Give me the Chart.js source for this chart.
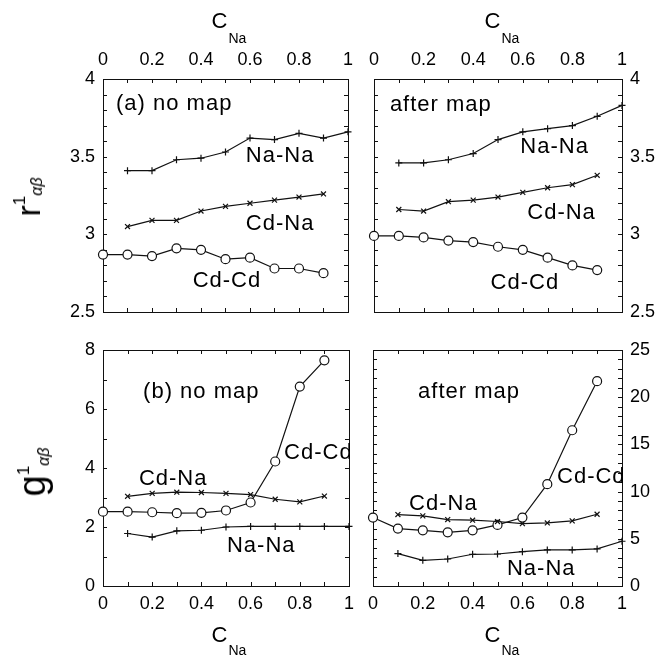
<!DOCTYPE html>
<html>
<head>
<meta charset="utf-8">
<script src="https://cdn.jsdelivr.net/npm/chart.js@4.4.1/dist/chart.umd.min.js"></script>
<style>
  body { margin: 0; background: #fff; }
  #wrap { position: relative; width: 657px; height: 656px; overflow: hidden;
          font-family: 'Liberation Sans', Arial, Helvetica, sans-serif; color: #000; }
  #wrap canvas { position: absolute; }
  #tl { left: 0; top: 0; }
  #tr { left: 361px; top: 0; }
  #bl { left: 0; top: 331px; }
  #br { left: 361px; top: 331px; }
  .xt { position: absolute; font-size: 22px; line-height: 1; transform: translateX(-50%); white-space: nowrap; }
  .xt span { font-size: 14px; position: relative; top: 15px; margin-left: 1px; }
  .yt { position: absolute; line-height: 1; white-space: nowrap;
        transform: translate(-50%, -50%) rotate(-90deg); }
  .yt .sup { position: relative; font-size: 17px; }
  .yt .sub { position: relative; font-size: 16px; font-style: italic; }
</style>
</head>
<body>
<div id="wrap">
  <canvas id="tl" width="361" height="331"></canvas>
  <canvas id="tr" width="296" height="331"></canvas>
  <canvas id="bl" width="361" height="325"></canvas>
  <canvas id="br" width="296" height="325"></canvas>

  <div class="xt" style="left:229px; top:10px">C<span>Na</span></div>
  <div class="xt" style="left:502px; top:10px">C<span>Na</span></div>
  <div class="xt" style="left:229px; top:624px">C<span style="top:13px">Na</span></div>
  <div class="xt" style="left:502px; top:624px">C<span style="top:13px">Na</span></div>

  <div class="yt" style="left:28px; top:197px"><span style="font-size:34px">r</span><span class="sup" style="top:-15px">1</span><span class="sub" style="top:2px">αβ</span></div>
  <div class="yt" style="left:32px; top:472px"><span style="font-size:38px">g</span><span class="sup" style="top:-16px">1</span><span class="sub" style="top:4px">αβ</span></div>
</div>

<script>
// Na concentration, shared by all four panels
const cNa = [0, 0.1, 0.2, 0.3, 0.4, 0.5, 0.6, 0.7, 0.8, 0.9, 1];

// tick labels
const xTicks = [0, 0.2, 0.4, 0.6, 0.8, 1];
const rTicks = [2.5, 3, 3.5, 4];
const gNoMapTicks = [0, 2, 4, 6, 8];
const gMapTicks = [0, 5, 10, 15, 20, 25];

// (a) r1, no map
const rNoMapNaNa = [null, 3.41, 3.41, 3.48, 3.49, 3.53, 3.62, 3.61, 3.65, 3.62, 3.66];
const rNoMapCdNa = [null, 3.05, 3.09, 3.09, 3.15, 3.18, 3.20, 3.22, 3.24, 3.26, null];
const rNoMapCdCd = [2.87, 2.87, 2.86, 2.91, 2.90, 2.84, 2.85, 2.78, 2.78, 2.75, null];

// r1, after map
const rMapNaNa = [null, 3.46, 3.46, 3.48, 3.52, 3.61, 3.66, 3.68, 3.70, 3.76, 3.83];
const rMapCdNa = [null, 3.16, 3.15, 3.21, 3.22, 3.24, 3.27, 3.30, 3.32, 3.38, null];
const rMapCdCd = [2.99, 2.99, 2.98, 2.96, 2.95, 2.92, 2.90, 2.85, 2.80, 2.77, null];

// (b) g1, no map
const gNoMapNaNa = [null, 1.78, 1.66, 1.87, 1.89, 2.00, 2.02, 2.02, 2.02, 2.02, 2.02];
const gNoMapCdNa = [null, 3.04, 3.14, 3.18, 3.17, 3.14, 3.10, 2.94, 2.85, 3.05, null];
const gNoMapCdCd = [2.52, 2.52, 2.50, 2.47, 2.48, 2.56, 2.83, 4.22, 6.76, 7.65, null];

// g1, after map
const gMapNaNa = [null, 3.43, 2.72, 2.86, 3.36, 3.39, 3.64, 3.82, 3.82, 3.93, 4.74];
const gMapCdNa = [null, 7.57, 7.43, 7.04, 6.97, 6.83, 6.61, 6.68, 6.90, 7.60, null];
const gMapCdCd = [7.25, 6.08, 5.90, 5.69, 5.90, 6.47, 7.25, 10.79, 16.50, 21.70, null];

const FONT = "'Liberation Sans', Arial, Helvetica, sans-serif";
Chart.defaults.font.family = FONT;
Chart.defaults.font.size = 18;
Chart.defaults.color = '#000';

function pts(vals) {
  return cNa.map((c, i) => ({ x: c, y: vals[i] })).filter(p => p.y !== null);
}

function series(vals, style) {
  return {
    data: pts(vals),
    borderColor: '#111',
    borderWidth: 1.2,
    pointStyle: style,
    pointRadius: style === 'circle' ? 4.5 : 3.5,
    pointBorderWidth: 1.2,
    pointBorderColor: '#111',
    pointBackgroundColor: '#fff',
    tension: 0,
    clip: false
  };
}

// box round the plot area plus small inward ticks on every side
const framePlugin = {
  id: 'frame',
  beforeDatasetsDraw(chart, args, opts) {
    const { ctx, chartArea: a, scales } = chart;
    const xs = scales.x, ys = scales.y;
    const len = opts.len;
    ctx.save();
    ctx.strokeStyle = '#111';
    ctx.lineWidth = 1;
    ctx.strokeRect(a.left + 0.5, a.top + 0.5, a.right - a.left, a.bottom - a.top);
    ctx.beginPath();
    let n = Math.round((xs.max - xs.min) / opts.xStep);
    for (let i = 1; i < n; i++) {
      const px = Math.round(xs.getPixelForValue(xs.min + i * opts.xStep)) + 0.5;
      ctx.moveTo(px, a.top); ctx.lineTo(px, a.top + len);
      ctx.moveTo(px, a.bottom); ctx.lineTo(px, a.bottom - len);
    }
    n = Math.round((ys.max - ys.min) / opts.yStep);
    for (let i = 1; i < n; i++) {
      const py = Math.round(ys.getPixelForValue(ys.min + i * opts.yStep)) + 0.5;
      ctx.moveTo(a.left, py); ctx.lineTo(a.left + len, py);
      ctx.moveTo(a.right, py); ctx.lineTo(a.right - len, py);
    }
    ctx.stroke();
    ctx.restore();
  }
};

// curve names and panel captions, placed in data units
const notesPlugin = {
  id: 'notes',
  afterDatasetsDraw(chart, args, opts) {
    const { ctx, chartArea: a, scales } = chart;
    ctx.save();
    ctx.beginPath();
    ctx.rect(a.left, a.top, a.right - a.left + 1, a.bottom - a.top);
    ctx.clip();
    ctx.font = '22px ' + FONT;
    ctx.letterSpacing = '1px';
    ctx.fillStyle = '#000';
    ctx.textBaseline = 'alphabetic';
    ctx.textAlign = 'left';
    opts.items.forEach(t => {
      ctx.fillText(t[0], scales.x.getPixelForValue(t[1]), scales.y.getPixelForValue(t[2]));
    });
    ctx.letterSpacing = '0px';
    ctx.restore();
  }
};

const fmt = v => String(Math.round(v * 100) / 100);

function panel(id, cfg) {
  return new Chart(document.getElementById(id), {
    type: 'line',
    data: { datasets: cfg.sets },
    options: {
      responsive: false,
      animation: false,
      events: [],
      layout: { padding: cfg.pad },
      scales: {
        x: {
          type: 'linear', position: cfg.xPos, min: 0, max: 1,
          afterBuildTicks: s => { s.ticks = xTicks.map(v => ({ value: v })); },
          afterFit: s => { s.height = cfg.xSize; },
          grid: { display: false, drawTicks: false },
          border: { display: false },
          ticks: { autoSkip: false, maxRotation: 0, padding: cfg.xPad, callback: fmt }
        },
        y: {
          type: 'linear', position: cfg.yPos, min: cfg.yTicks[0], max: cfg.yTicks[cfg.yTicks.length - 1],
          afterBuildTicks: s => { s.ticks = cfg.yTicks.map(v => ({ value: v })); },
          afterFit: s => { s.width = cfg.ySize; },
          grid: { display: false, drawTicks: false },
          border: { display: false },
          ticks: { autoSkip: false, padding: 8, callback: fmt }
        }
      },
      plugins: {
        legend: { display: false },
        tooltip: { enabled: false },
        frame: { xStep: 0.1, yStep: cfg.yMinor, len: 4 },
        notes: { items: cfg.notes }
      }
    },
    plugins: [framePlugin, notesPlugin]
  });
}

panel('tl', {
  pad: { left: 0, top: 0, right: 12, bottom: 19 },
  xPos: 'top', xSize: 79, xPad: 8,
  yPos: 'left', ySize: 103, yTicks: rTicks, yMinor: 0.1,
  sets: [series(rNoMapNaNa, 'cross'), series(rNoMapCdNa, 'crossRot'), series(rNoMapCdCd, 'circle')],
  notes: [['(a) no map', 0.053, 3.80], ['Na-Na', 0.583, 3.468], ['Cd-Na', 0.583, 3.028], ['Cd-Cd', 0.366, 2.661]]
});

panel('tr', {
  pad: { left: 12, top: 0, right: 0, bottom: 19 },
  xPos: 'top', xSize: 79, xPad: 8,
  yPos: 'right', ySize: 35, yTicks: rTicks, yMinor: 0.1,
  sets: [series(rMapNaNa, 'cross'), series(rMapCdNa, 'crossRot'), series(rMapCdCd, 'circle')],
  notes: [['after map', 0.064, 3.794], ['Na-Na', 0.59, 3.525], ['Cd-Na', 0.618, 3.099], ['Cd-Cd', 0.47, 2.648]]
});

panel('bl', {
  pad: { left: 0, top: 19, right: 12, bottom: 0 },
  xPos: 'bottom', xSize: 70, xPad: 7,
  yPos: 'left', ySize: 103, yTicks: gNoMapTicks, yMinor: 1,
  sets: [series(gNoMapNaNa, 'cross'), series(gNoMapCdNa, 'crossRot'), series(gNoMapCdCd, 'circle')],
  notes: [['(b) no map', 0.163, 6.37], ['Cd-Na', 0.146, 3.42], ['Cd-Cd', 0.736, 4.31], ['Na-Na', 0.504, 1.15]]
});

panel('br', {
  pad: { left: 12, top: 19, right: 0, bottom: 0 },
  xPos: 'bottom', xSize: 70, xPad: 7,
  yPos: 'right', ySize: 35, yTicks: gMapTicks, yMinor: 1,
  sets: [series(gMapNaNa, 'cross'), series(gMapCdNa, 'crossRot'), series(gMapCdCd, 'circle')],
  notes: [['after map', 0.181, 19.9], ['Cd-Na', 0.145, 8.05], ['Cd-Cd', 0.739, 10.9], ['Na-Na', 0.538, 1.17]]
});
</script>
</body>
</html>
